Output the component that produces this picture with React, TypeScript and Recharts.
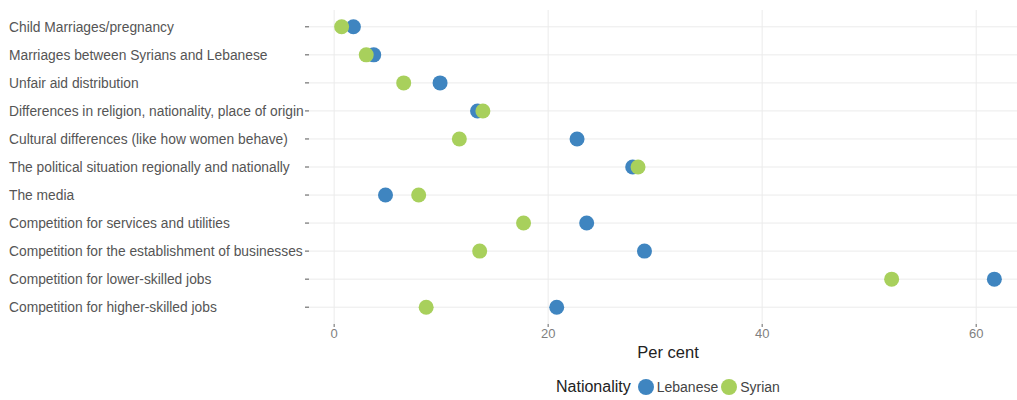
import { Label, ReferenceLine, Scatter, ScatterChart, XAxis, YAxis } from "recharts";

const categories = [
  "Child Marriages/pregnancy",
  "Marriages between Syrians and Lebanese",
  "Unfair aid distribution",
  "Differences in religion, nationality, place of origin",
  "Cultural differences (like how women behave)",
  "The political situation regionally and nationally",
  "The media",
  "Competition for services and utilities",
  "Competition for the establishment of businesses",
  "Competition for lower-skilled jobs",
  "Competition for higher-skilled jobs",
];
const lebanese = [1.8, 3.7, 9.9, 13.4, 22.7, 27.9, 4.8, 23.6, 29.0, 61.7, 20.8];
const syrian = [0.7, 3.0, 6.5, 13.9, 11.7, 28.4, 7.9, 17.7, 13.6, 52.1, 8.6];
const xTicks = [0, 20, 40, 60];
const yTicks = categories.map((_, i) => i);

const BLUE = "#3f85c0";
const GREEN = "#a8d05c";
const GRID = "#ebebeb";
const FONT = "'Liberation Sans', Arial, sans-serif";

const lebData = categories.map((c, i) => ({ idx: i, value: lebanese[i], category: c }));
const syrData = categories.map((c, i) => ({ idx: i, value: syrian[i], category: c }));

function Dot(color: string) {
  return (props: any) => <circle cx={props.cx} cy={props.cy} r={7.5} fill={color} />;
}

function CategoryTick(props: any) {
  const { y, payload } = props;
  return (
    <text x={9} y={y} dy="0.35em" textAnchor="start" fontSize={13.8} fill="#555" fontFamily={FONT}>
      {categories[payload.value]}
    </text>
  );
}

export default function App() {
  return (
    <div
      style={{
        position: "absolute",
        left: 0,
        top: 0,
        width: 1017,
        height: 400,
        overflow: "hidden",
        background: "#fff",
        fontFamily: FONT,
      }}
    >
      <ScatterChart width={1030} height={400} margin={{ top: 10, right: 3, bottom: 0, left: 0 }}>
        <XAxis
          type="number"
          dataKey="value"
          domain={[-2.35, 64.75]}
          allowDataOverflow
          ticks={xTicks}
          axisLine={false}
          tickSize={3}
          tickMargin={2}
          tickLine={{ stroke: "#666" }}
          tick={{ fontSize: 13, fill: "#7f7f7f", fontFamily: FONT }}
          height={76}
        >
          <Label
            value="Per cent"
            position="insideTop"
            offset={22}
            style={{ fontSize: 16.5, fill: "#222", fontFamily: FONT }}
          />
        </XAxis>
        <YAxis
          type="number"
          dataKey="idx"
          domain={[-0.6, 10.6]}
          reversed
          ticks={yTicks}
          interval={0}
          axisLine={false}
          tickSize={4}
          tickLine={{ stroke: "#555" }}
          tick={<CategoryTick />}
          width={309}
        />
        {yTicks.map((i) => (
          <ReferenceLine key={`h${i}`} y={i} stroke={GRID} />
        ))}
        {xTicks.map((v) => (
          <ReferenceLine key={`v${v}`} x={v} stroke={GRID} />
        ))}
        <Scatter name="Lebanese" data={lebData} fill={BLUE} shape={Dot(BLUE)} isAnimationActive={false} />
        <Scatter name="Syrian" data={syrData} fill={GREEN} shape={Dot(GREEN)} isAnimationActive={false} />
      </ScatterChart>
      <div
        style={{
          position: "absolute",
          left: 556,
          top: 378,
          display: "flex",
          alignItems: "center",
          fontFamily: FONT,
        }}
      >
        <span style={{ fontSize: 16, color: "#222", marginRight: 7 }}>Nationality</span>
        <span style={{ width: 16, height: 16, borderRadius: 8, background: BLUE, marginRight: 3 }} />
        <span style={{ fontSize: 14, color: "#444", marginRight: 3 }}>Lebanese</span>
        <span style={{ width: 16, height: 16, borderRadius: 8, background: GREEN, marginRight: 3 }} />
        <span style={{ fontSize: 14, color: "#444" }}>Syrian</span>
      </div>
    </div>
  );
}
